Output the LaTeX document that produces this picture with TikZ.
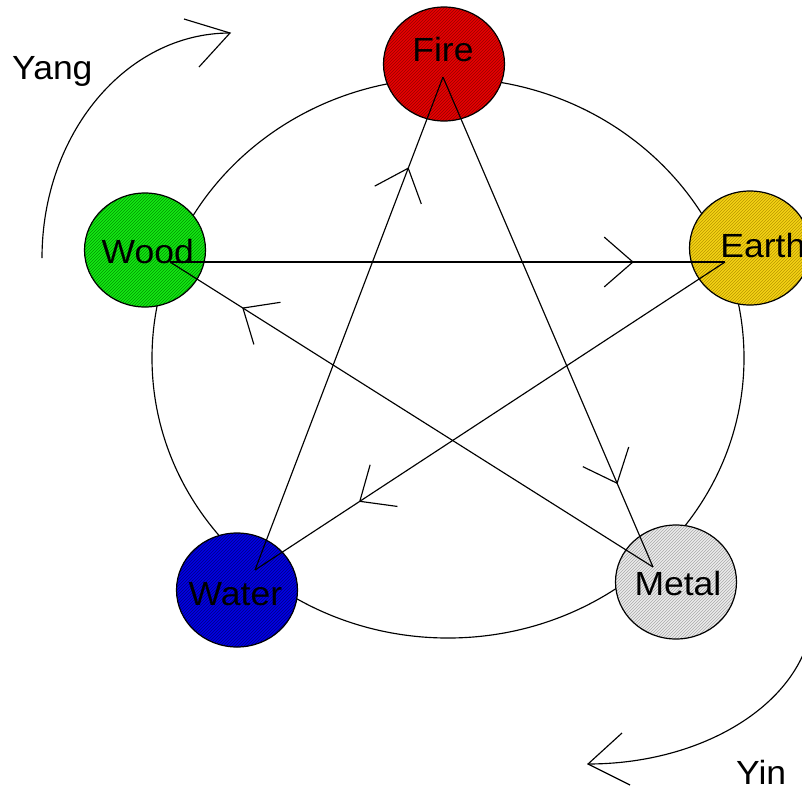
\documentclass[tikz,border=0pt]{standalone}
\usepackage{fontspec}
\setmainfont{Liberation Sans}
\newfontfamily\lblfont[FakeStretch=1.06]{Liberation Sans}
\usetikzlibrary{calc,patterns,shapes.geometric}
\definecolor{firec}{RGB}{232,0,0}
\definecolor{firep}{RGB}{150,0,0}
\definecolor{earthc}{RGB}{245,212,20}
\definecolor{earthp}{RGB}{185,150,0}
\definecolor{woodc}{RGB}{20,232,20}
\definecolor{woodp}{RGB}{0,150,0}
\definecolor{waterc}{RGB}{0,0,230}
\definecolor{waterp}{RGB}{0,0,130}
\definecolor{metalc}{RGB}{236,236,236}
\definecolor{metalp}{RGB}{170,170,170}
\newcommand\vhead[2]{\draw[conn] ($(#1)!38pt!41:(#2)$) -- (#1) -- ($(#1)!38pt!-41:(#2)$);}
\begin{document}
\begin{tikzpicture}[x=1pt,y=-1pt,
  conn/.style={draw=black, line width=1.15pt},
  elem/.style={ellipse, draw=black, line width=1.2pt, minimum width=121pt, minimum height=114pt, inner sep=0pt},
  lbl/.style={font=\lblfont\fontsize{33.5}{40}\selectfont, inner sep=0pt, text=black, anchor=base west}]
\clip (0,0) rectangle (802,788);
\fill[white] (0,0) rectangle (802,788);
% big circle
\draw[conn] (448,358) ellipse [x radius=296, y radius=280];
% element circles
\node[elem, preaction={fill=firec}, pattern=north east lines, pattern color=firep] (fire) at (444,64) {};
\node[elem, preaction={fill=earthc}, pattern=north east lines, pattern color=earthp] (earth) at (750,248) {};
\node[elem, preaction={fill=metalc}, pattern=north east lines, pattern color=metalp] (metal) at (676,582) {};
\node[elem, preaction={fill=waterc}, pattern=north east lines, pattern color=waterp] (water) at (237,590) {};
\node[elem, preaction={fill=woodc}, pattern=north east lines, pattern color=woodp] (wood) at (145,250) {};
% labels
\node[lbl] (firet) at (412.2,61) {Fire};
\node[lbl] (eartht) at (720.2,257) {Earth};
\node[lbl] (woodt) at (101.5,263) {Wood};
\node[lbl] (watert) at (188.5,605) {Water};
\node[lbl] (metalt) at (634.3,595) {Metal};
\node[lbl] (yangt) at (12,79) {Yang};
\node[lbl] (yint) at (736,784) {Yin};
% connector end points
\coordinate (pFire) at (443,77);
\coordinate (pEarth) at (725,262);
\coordinate (pMetal) at (653,567);
\coordinate (pWater) at (255,570);
\coordinate (pWood) at (170,262);
% pentagram
\draw[conn] (pFire) -- (pMetal);
\draw[conn] (pWood) -- (pEarth);
\draw[conn] (pEarth) -- (pWater);
\draw[conn] (pWater) -- (pFire);
\draw[conn] (pMetal) -- (pWood);
\coordinate (a1) at ($(pFire)!0.829!(pMetal)$);
\coordinate (a2) at ($(pWood)!0.834!(pEarth)$);
\coordinate (a3) at ($(pEarth)!0.777!(pWater)$);
\coordinate (a4) at ($(pWater)!0.815!(pFire)$);
\coordinate (a5) at ($(pMetal)!0.849!(pWood)$);
\vhead{a1}{pFire}
\vhead{a2}{pWood}
\vhead{a3}{pEarth}
\vhead{a4}{pWater}
\vhead{a5}{pMetal}
% Yang arc
\coordinate (yangS) at (42,258);
\coordinate (yangTip) at (230,33);
\draw[conn] (yangS) arc[start angle=180, end angle=270, x radius=188, y radius=225];
\draw[conn] (184,19) -- (yangTip) -- (199,67);
% Yin arc
\coordinate (yinS) at (809.6,635.9);
\coordinate (yinTip) at (588,764);
\draw[conn] (yinS) arc[start angle=10, end angle=90, x radius=225, y radius=155];
\draw[conn] (622,733) -- (yinTip) -- (630,785);
\end{tikzpicture}
\end{document}
